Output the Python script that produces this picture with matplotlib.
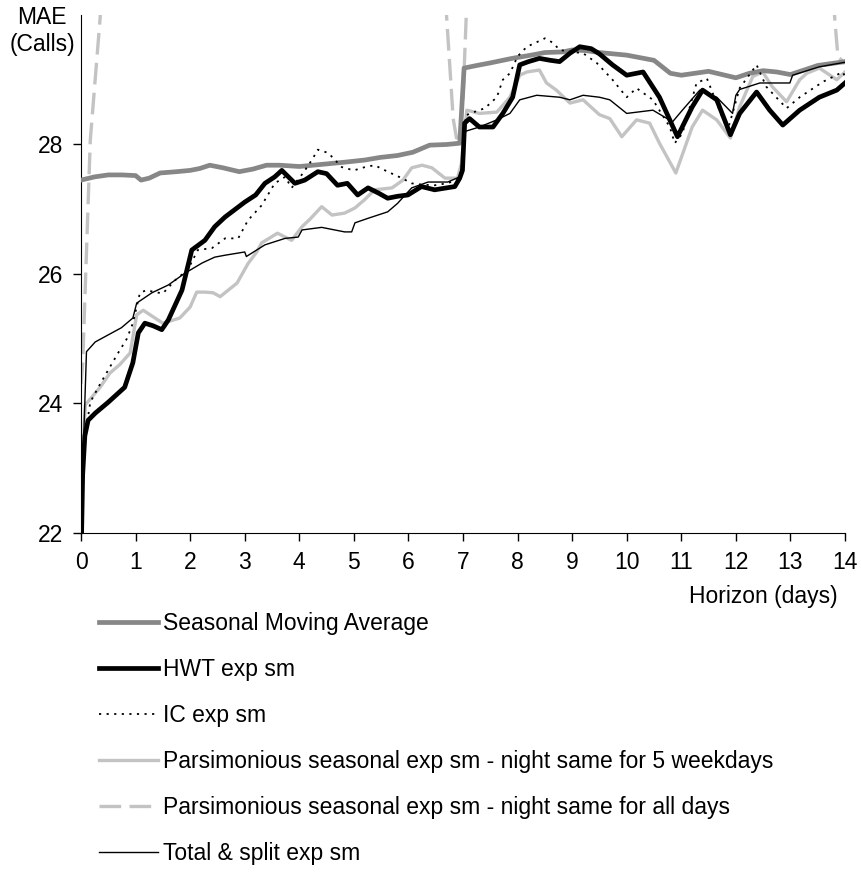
import matplotlib
matplotlib.use("Agg")
from matplotlib import pyplot as plt

plt.rcParams['font.family'] = ['Liberation Sans', 'DejaVu Sans']

# Seasonal Moving Average
sma_days = [0.0, 0.25, 0.5, 0.75, 1.0, 1.1, 1.25, 1.45, 1.75, 2.0, 2.18, 2.36, 2.6, 2.9, 3.15,
            3.4, 3.64, 4.0, 4.25, 4.5, 4.87, 5.2, 5.48, 5.8, 6.08, 6.39, 6.7, 6.94, 7.02, 7.25,
            7.5, 7.9, 8.25, 8.5, 8.83, 9.0, 9.25, 9.5, 9.75, 10.0, 10.25, 10.5, 10.8, 11.0, 11.25,
            11.5, 11.75, 12.0, 12.25, 12.5, 12.75, 13.0, 13.25, 13.5, 13.75, 14.0]
sma_mae = [27.45, 27.5, 27.53, 27.53, 27.52, 27.45, 27.48, 27.56, 27.58, 27.6, 27.63, 27.68, 27.64, 27.58, 27.62,
           27.68, 27.68, 27.66, 27.68, 27.7, 27.73, 27.76, 27.8, 27.83, 27.88, 27.99, 28.0, 28.02, 29.18, 29.22,
           29.26, 29.33, 29.38, 29.42, 29.43, 29.46, 29.45, 29.42, 29.4, 29.38, 29.34, 29.3, 29.1, 29.07, 29.1,
           29.13, 29.08, 29.03, 29.1, 29.14, 29.12, 29.08, 29.15, 29.22, 29.25, 29.28]

# HWT exp sm
hwt_days = [0.0, 0.03, 0.07, 0.13, 0.26, 0.5, 0.8, 0.95, 1.05, 1.17, 1.32, 1.48, 1.6, 1.85, 2.03,
            2.27, 2.45, 2.64, 3.0, 3.2, 3.37, 3.55, 3.68, 3.8, 3.92, 4.1, 4.34, 4.5, 4.7, 4.88,
            5.07, 5.26, 5.45, 5.62, 5.8, 5.99, 6.24, 6.48, 6.7, 6.85, 6.94, 6.99, 7.03, 7.12, 7.3,
            7.55, 7.73, 7.91, 8.04, 8.2, 8.4, 8.6, 8.77, 8.96, 9.14, 9.35, 9.5, 9.74, 10.0, 10.3,
            10.6, 10.93, 11.2, 11.39, 11.65, 11.9, 12.07, 12.38, 12.62, 12.86, 13.17, 13.53, 13.85, 14.0]
hwt_mae = [21.5, 22.9, 23.5, 23.74, 23.85, 24.02, 24.25, 24.63, 25.09, 25.24, 25.2, 25.14, 25.29, 25.75, 26.37,
           26.52, 26.73, 26.88, 27.11, 27.22, 27.4, 27.5, 27.6, 27.5, 27.4, 27.45, 27.58, 27.55, 27.37, 27.4,
           27.22, 27.33, 27.25, 27.17, 27.2, 27.22, 27.35, 27.3, 27.33, 27.35, 27.48, 27.6, 28.33, 28.4, 28.27,
           28.27, 28.48, 28.73, 29.23, 29.28, 29.33, 29.3, 29.28, 29.41, 29.51, 29.48, 29.4, 29.23, 29.07, 29.12,
           28.73, 28.12, 28.58, 28.84, 28.69, 28.15, 28.48, 28.81, 28.53, 28.3, 28.53, 28.73, 28.84, 28.95]

# IC exp sm
ic_days = [0.0, 0.04, 0.17, 0.35, 0.5, 0.68, 0.84, 0.95, 1.08, 1.2, 1.35, 1.5, 1.72, 1.96, 2.14,
           2.4, 2.64, 2.88, 3.06, 3.31, 3.55, 3.74, 3.86, 4.07, 4.23, 4.34, 4.53, 4.78, 5.0, 5.2,
           5.38, 5.62, 5.88, 6.06, 6.25, 6.48, 6.7, 6.9, 6.97, 7.05, 7.2, 7.4, 7.62, 7.73, 7.86,
           8.0, 8.17, 8.35, 8.5, 8.65, 8.77, 9.0, 9.2, 9.45, 9.74, 10.0, 10.18, 10.48, 10.79, 10.88,
           11.02, 11.28, 11.47, 11.7, 11.85, 12.07, 12.38, 12.56, 12.75, 12.93, 13.17, 13.6, 13.96, 14.0]
ic_mae = [21.5, 23.3, 24.02, 24.3, 24.52, 24.78, 25.0, 25.24, 25.71, 25.75, 25.72, 25.7, 25.9, 26.07, 26.37,
          26.4, 26.55, 26.55, 26.83, 27.06, 27.4, 27.5, 27.33, 27.56, 27.76, 27.92, 27.87, 27.65, 27.6, 27.65,
          27.68, 27.58, 27.48, 27.4, 27.38, 27.37, 27.4, 27.45, 27.6, 28.45, 28.5, 28.56, 28.73, 29.0, 29.1,
          29.36, 29.51, 29.58, 29.64, 29.57, 29.46, 29.43, 29.41, 29.26, 29.0, 28.73, 28.87, 28.69, 28.27, 28.02,
          28.17, 28.95, 29.02, 28.53, 28.22, 28.87, 29.23, 28.89, 28.72, 28.56, 28.73, 28.97, 29.12, 29.05]

# Parsimonious seasonal exp sm - night same for 5 weekdays
p5_days = [0.0, 0.03, 0.08, 0.2, 0.35, 0.53, 0.71, 0.9, 1.02, 1.14, 1.3, 1.5, 1.81, 2.0, 2.12,
           2.27, 2.42, 2.55, 2.86, 3.06, 3.22, 3.31, 3.6, 3.86, 4.05, 4.2, 4.41, 4.6, 4.83, 5.02,
           5.2, 5.38, 5.7, 5.9, 6.06, 6.25, 6.43, 6.67, 6.9, 6.97, 7.07, 7.3, 7.62, 7.86, 8.04,
           8.17, 8.4, 8.53, 8.71, 8.96, 9.2, 9.5, 9.69, 9.91, 10.18, 10.42, 10.6, 10.9, 11.2, 11.39,
           11.65, 11.9, 12.07, 12.31, 12.49, 12.67, 12.93, 13.17, 13.3, 13.53, 13.85, 14.0]
p5_mae = [21.5, 23.2, 23.98, 24.1, 24.25, 24.47, 24.6, 24.78, 25.37, 25.44, 25.35, 25.24, 25.32, 25.49, 25.72,
          25.72, 25.71, 25.65, 25.86, 26.16, 26.34, 26.48, 26.63, 26.52, 26.73, 26.85, 27.04, 26.91, 26.94, 27.02,
          27.15, 27.3, 27.33, 27.45, 27.64, 27.68, 27.64, 27.48, 27.48, 27.7, 28.53, 28.48, 28.5, 28.73, 29.07,
          29.12, 29.15, 28.95, 28.84, 28.64, 28.69, 28.46, 28.4, 28.12, 28.38, 28.33, 28.02, 27.56, 28.27, 28.53,
          28.38, 28.1, 28.58, 29.05, 29.12, 28.89, 28.66, 29.0, 29.1, 29.18, 29.0, 29.12]

# Parsimonious seasonal exp sm - night same for all days (mostly off the top of the chart)
pall_days = [0.0, 0.03, 0.07, 0.17, 0.35, 0.5, 6.55, 6.7, 6.82, 6.88, 6.95, 7.0, 7.06, 7.2,
             13.65, 13.81, 13.87, 14.0]
pall_mae = [24.3, 24.6, 25.6, 28.07, 29.95, 33.0, 33.0, 29.97, 28.4, 28.1, 28.15, 28.7, 30.0, 33.0,
            33.0, 29.97, 29.36, 29.25]

# Total & split exp sm
tot_days = [0.0, 0.05, 0.1, 0.26, 0.5, 0.74, 0.95, 1.02, 1.3, 1.6, 1.9, 2.22, 2.45, 2.64, 3.0,
            3.03, 3.37, 3.74, 3.98, 4.05, 4.41, 4.83, 4.96, 5.02, 5.26, 5.62, 5.8, 6.06, 6.36, 6.72,
            6.94, 6.99, 7.03, 7.3, 7.62, 7.86, 8.04, 8.35, 8.77, 8.96, 9.2, 9.5, 9.69, 10.0, 10.48,
            10.84, 11.02, 11.34, 11.65, 11.94, 12.0, 12.07, 12.44, 12.99, 13.04, 13.53, 14.0]
tot_mae = [21.5, 23.5, 24.8, 24.95, 25.06, 25.17, 25.32, 25.55, 25.71, 25.83, 26.01, 26.17, 26.26, 26.29, 26.34,
           26.27, 26.45, 26.55, 26.57, 26.68, 26.72, 26.65, 26.65, 26.79, 26.86, 26.96, 27.09, 27.33, 27.42, 27.42,
           27.5, 27.7, 28.2, 28.27, 28.38, 28.48, 28.69, 28.76, 28.73, 28.69, 28.76, 28.73, 28.69, 28.48, 28.53,
           28.35, 28.53, 28.84, 28.73, 28.48, 28.76, 28.85, 28.95, 28.95, 29.07, 29.2, 29.27]

x_ticks = list(range(0, 15))
y_ticks = [22, 24, 26, 28]

FS = 16.5

fig = plt.figure(figsize=(8.61, 8.72), dpi=100)
ax = fig.add_axes([0.0941, 0.3888, 0.8873, 0.594])

l_sma, = ax.plot(sma_days, sma_mae, color="#878787", lw=3.4,
                 label="Seasonal Moving Average", zorder=3)
l_p5, = ax.plot(p5_days, p5_mae, color="#c3c3c3", lw=2.4,
                label="Parsimonious seasonal exp sm - night same for 5 weekdays", zorder=2)
l_pall, = ax.plot(pall_days, pall_mae, color="#c3c3c3", lw=2.4, linestyle=(0, (6.5, 2.5)),
                  label="Parsimonious seasonal exp sm - night same for all days", zorder=2)
l_hwt, = ax.plot(hwt_days, hwt_mae, color="black", lw=3.4, label="HWT exp sm", zorder=4)
l_ic, = ax.plot(ic_days, ic_mae, color="black", lw=1.3, linestyle=(0, (1.2, 3.0)),
                label="IC exp sm", zorder=5)
l_tot, = ax.plot(tot_days, tot_mae, color="black", lw=1.0, label="Total & split exp sm", zorder=5)

ax.set_xlim(0, 14)
ax.set_ylim(22, 30)
ax.set_xticks(x_ticks)
ax.set_yticks(y_ticks)
ax.tick_params(direction="out", length=6, width=1, labelsize=FS, pad=7)
for side in ["top", "right"]:
    ax.spines[side].set_visible(False)

fig.text(42 / 861, 1 - 31 / 872, "MAE\n(Calls)", ha="center", va="center", fontsize=FS, linespacing=1.25)
fig.text(838 / 861, 1 - 597 / 872, "Horizon (days)", ha="right", va="center", fontsize=FS)

handles = [l_sma, l_hwt, l_ic, l_p5, l_pall, l_tot]
fig.legend(handles=handles, labels=[h.get_label() for h in handles],
           loc="upper left", bbox_to_anchor=(99 / 861, 1 - 612 / 872), bbox_transform=fig.transFigure,
           frameon=False, fontsize=FS, handlelength=2.58, handletextpad=0.22,
           labelspacing=1.0, borderpad=0, borderaxespad=0)

plt.savefig("out.png", dpi=100)
